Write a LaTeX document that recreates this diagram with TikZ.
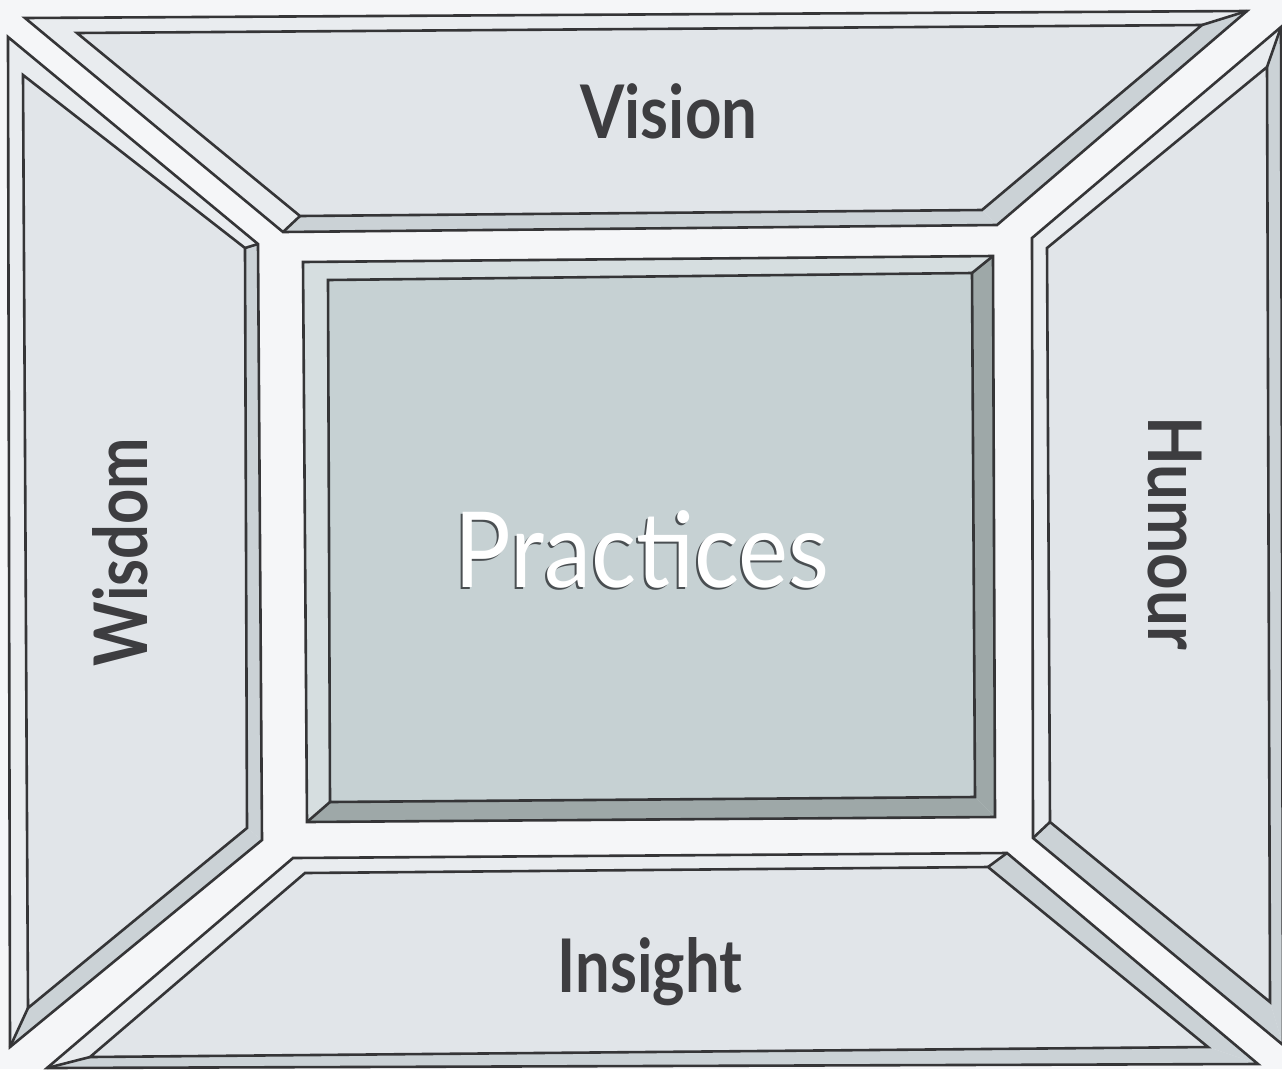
\documentclass[tikz,border=0pt]{standalone}
\usepackage{fontspec}
\setmainfont{Lato}
\definecolor{bgc}{HTML}{F5F6F8}
\definecolor{facec}{HTML}{E1E5E9}
\definecolor{lightc}{HTML}{E9ECEF}
\definecolor{darkc}{HTML}{CBD2D6}
\definecolor{cfacec}{HTML}{C6D1D3}
\definecolor{clightc}{HTML}{D6DEE0}
\definecolor{cdarkc}{HTML}{9EA8A8}
\definecolor{linec}{HTML}{353537}
\definecolor{textc}{HTML}{3D3D40}
\definecolor{shadowc}{HTML}{4A4F52}
\tikzset{
  panelline/.style={draw=linec, line width=2.6pt, line join=miter},
  label/.style={text=textc, font=\bfseries\fontsize{74}{80}\selectfont, inner sep=0pt, anchor=base},
  bigword/.style={label, font=\fontsize{105}{110}\selectfont, xscale=0.9},
}
\newcommand\mypanel[4]{%
  \fill[#2] (#1o1)--(#1o2)--(#1o3)--(#1o4)--cycle;
  \fill[#3] (#1o2)--(#1o3)--(#1i3)--(#1i2)--cycle;
  \fill[#3] (#1o3)--(#1o4)--(#1i4)--(#1i3)--cycle;
  \fill[#4] (#1i1)--(#1i2)--(#1i3)--(#1i4)--cycle;
  \draw[panelline] (#1o1)--(#1o2)--(#1o3)--(#1o4)--cycle;
  \draw[panelline] (#1i1)--(#1i2)--(#1i3)--(#1i4)--cycle;
  \draw[panelline] (#1o2)--(#1i2);
  \draw[panelline] (#1o4)--(#1i4);
}
\begin{document}
\begin{tikzpicture}[x=1pt,y=-1pt]
\useasboundingbox (0,0) rectangle (1282,1069);
\fill[bgc] (0,0) rectangle (1282,1069);
% Vision (top)
\coordinate (Vo1) at (25,18);   \coordinate (Vo2) at (1247,11);
\coordinate (Vo3) at (997,225); \coordinate (Vo4) at (283,232);
\coordinate (Vi1) at (77,33);   \coordinate (Vi2) at (1202,25);
\coordinate (Vi3) at (982,210); \coordinate (Vi4) at (300,216);
% Wisdom (left)
\coordinate (Wo1) at (8,37);    \coordinate (Wo2) at (258,244);
\coordinate (Wo3) at (262,840); \coordinate (Wo4) at (10,1047);
\coordinate (Wi1) at (23,75);   \coordinate (Wi2) at (245,248);
\coordinate (Wi3) at (247,828); \coordinate (Wi4) at (28,1008);
% Humour (right)
\coordinate (Ho1) at (1032,238); \coordinate (Ho2) at (1281,27);
\coordinate (Ho3) at (1283,1045); \coordinate (Ho4) at (1033,838);
\coordinate (Hi1) at (1047,248); \coordinate (Hi2) at (1267,67);
\coordinate (Hi3) at (1270,1002); \coordinate (Hi4) at (1050,822);
% Insight (bottom)
\coordinate (Io1) at (293,858);  \coordinate (Io2) at (1007,853);
\coordinate (Io3) at (1258,1064); \coordinate (Io4) at (47,1068);
\coordinate (Ii1) at (305,873);  \coordinate (Ii2) at (988,867);
\coordinate (Ii3) at (1208,1047); \coordinate (Ii4) at (90,1057);
% Practices (centre)
\coordinate (Co1) at (303,262);  \coordinate (Co2) at (993,256);
\coordinate (Co3) at (995,817);  \coordinate (Co4) at (307,822);
\coordinate (Ci1) at (328,280);  \coordinate (Ci2) at (972,273);
\coordinate (Ci3) at (975,797);  \coordinate (Ci4) at (330,802);

\mypanel{V}{lightc}{darkc}{facec}
\mypanel{W}{lightc}{darkc}{facec}
\mypanel{H}{lightc}{darkc}{facec}
\mypanel{I}{lightc}{darkc}{facec}
\mypanel{C}{clightc}{cdarkc}{cfacec}

\node[label, xscale=0.86] (vision) at (669,138) {Vision};
\node[label, xscale=0.83] (insight) at (650,992) {Insight};
\node[label, rotate=90, xscale=0.83] (wisdom) at (147,552) {Wisdom};
\node[label, rotate=-90, xscale=0.86] (humour) at (1148,533) {Humour};
\node[bigword, text=shadowc] (practicesshadow) at (640,589) {Practices};
\node[bigword, text=white] (practices) at (642,587) {Practices};
\end{tikzpicture}
\end{document}
